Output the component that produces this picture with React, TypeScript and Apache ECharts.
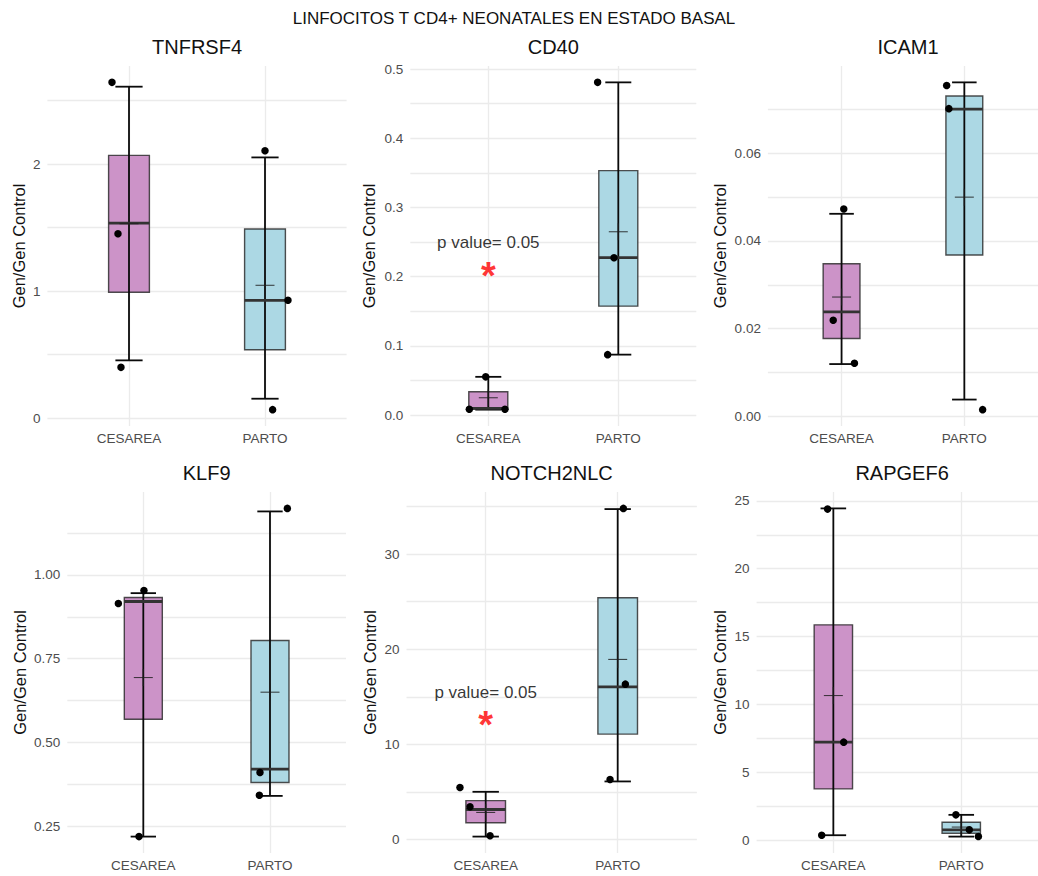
import React, { useEffect, useRef } from "react";
import * as echarts from "echarts";

const FONT = "'Liberation Sans', Arial, Helvetica, sans-serif";

const mainTitle = "LINFOCITOS T CD4+ NEONATALES EN ESTADO BASAL";
const yTitle = "Gen/Gen Control";
const genes = ["TNFRSF4", "CD40", "ICAM1", "KLF9", "NOTCH2NLC", "RAPGEF6"];
const groups = ["CESAREA", "PARTO"];

// [whiskerLow, q1, median, q3, whiskerHigh]
const cesareaBox = [
  [0.454, 0.99, 1.535, 2.068, 2.609],
  [0.0078, 0.0086, 0.0095, 0.0336, 0.0552],
  [0.0119, 0.01775, 0.0238, 0.0348, 0.0462],
  [0.2202, 0.5699, 0.9205, 0.9324, 0.9453],
  [0.3, 1.75, 3.15, 4.08, 5.01],
  [0.39, 3.8, 7.24, 15.87, 24.44],
];
const partoBox = [
  [0.152, 0.538, 0.927, 1.488, 2.052],
  [0.0873, 0.1574, 0.2274, 0.3532, 0.4808],
  [0.0038, 0.0368, 0.0701, 0.0731, 0.0762],
  [0.3414, 0.3811, 0.4209, 0.8043, 1.1887],
  [6.1, 11.08, 16.05, 25.41, 34.74],
  [0.29, 0.54, 0.785, 1.34, 1.89],
];
const cesareaMean = [1.53, 0.025, 0.0272, 0.694, 2.84, 10.67];
const partoMean = [1.045, 0.2649, 0.05, 0.6503, 18.93, 0.99];

// jittered observations
const cesareaPoints = [
  [2.643, 1.451, 0.399],
  [0.0552, 0.0084, 0.0084],
  [0.0473, 0.0219, 0.0121],
  [0.953, 0.9146, 0.2202],
  [5.47, 3.43, 0.39],
  [24.39, 7.24, 0.39],
];
const cesareaJitter = [
  [-0.125, -0.081, -0.059],
  [-0.02, -0.146, 0.128],
  [0.018, -0.068, 0.105],
  [0.005, -0.197, -0.034],
  [-0.195, -0.119, 0.033],
  [-0.045, 0.081, -0.091],
];
const partoPoints = [
  [2.105, 0.927, 0.066],
  [0.4808, 0.2274, 0.0873],
  [0.0755, 0.0702, 0.0015],
  [1.1977, 0.4109, 0.3434],
  [34.81, 16.33, 6.31],
  [1.89, 0.785, 0.3],
];
const partoJitter = [
  [0, 0.169, 0.056],
  [-0.159, -0.033, -0.082],
  [-0.144, -0.126, 0.149],
  [0.137, -0.079, -0.084],
  [0.043, 0.058, -0.058],
  [-0.042, 0.063, 0.134],
];

const majorTicks = [
  [0, 1, 2],
  [0, 0.1, 0.2, 0.3, 0.4, 0.5],
  [0, 0.02, 0.04, 0.06],
  [0.25, 0.5, 0.75, 1.0],
  [0, 10, 20, 30],
  [0, 5, 10, 15, 20, 25],
];
const minorTicks = [
  [0.5, 1.5, 2.5],
  [0.05, 0.15, 0.25, 0.35, 0.45],
  [0.01, 0.03, 0.05, 0.07],
  [0.375, 0.625, 0.875, 1.125],
  [5, 15, 25, 35],
  [2.5, 7.5, 12.5, 17.5, 22.5],
];
const tickDecimals = [0, 1, 2, 2, 0, 0];

const pValueLabel = ["", "p value= 0.05", "", "", "p value= 0.05", ""];
const pValueY = [null, 0.2495, null, null, 15.42, null];
const starY = [null, 0.2014, null, null, 12.07, null];

// layout (pixels)
const gridLeft = [47.4, 410.3, 767.9, 67.3, 406.5, 756.6];
const gridWidth = [299.2, 286, 280.3, 278.7, 290.4, 291];
const gridTop = [66, 66, 66, 492, 492, 492];
const gridHeight = [360, 360, 360, 361, 361, 361];
const yTitleX = [19.3, 369.3, 720, 20, 370, 720];

const cesareaFill = "#cc93c8";
const partoFill = "#acd8e4";

function yRange(i: number): [number, number] {
  const vals = [...cesareaBox[i], ...partoBox[i], ...cesareaPoints[i], ...partoPoints[i]];
  const lo = Math.min(...vals);
  const hi = Math.max(...vals);
  const pad = (hi - lo) * 0.05;
  return [lo - pad, hi + pad];
}

function renderBox(params: any, api: any) {
  const x = api.value(0);
  const c = (v: number) => api.coord([x, v]);
  const wl = c(api.value(1));
  const q1 = c(api.value(2));
  const md = c(api.value(3));
  const q3 = c(api.value(4));
  const wh = c(api.value(5));
  const mn = c(api.value(6));
  const cx = md[0];
  const bw = Math.abs(api.coord([x + 0.15, 0])[0] - api.coord([x - 0.15, 0])[0]);
  const cw = Math.abs(api.coord([x + 0.1, 0])[0] - api.coord([x - 0.1, 0])[0]);
  const fill = Math.round(x) === 1 ? cesareaFill : partoFill;
  const lineStyle = { stroke: "#0a0a0a", lineWidth: 1.8 };
  return {
    type: "group",
    children: [
      {
        type: "rect",
        shape: { x: cx - bw / 2, y: q3[1], width: bw, height: q1[1] - q3[1] },
        style: { fill, stroke: "rgba(35,35,35,0.8)", lineWidth: 1.4 },
      },
      { type: "line", shape: { x1: cx, y1: wh[1], x2: cx, y2: wl[1] }, style: lineStyle },
      { type: "line", shape: { x1: cx - cw / 2, y1: wh[1], x2: cx + cw / 2, y2: wh[1] }, style: lineStyle },
      { type: "line", shape: { x1: cx - cw / 2, y1: wl[1], x2: cx + cw / 2, y2: wl[1] }, style: lineStyle },
      {
        type: "line",
        shape: { x1: cx - bw / 2, y1: md[1], x2: cx + bw / 2, y2: md[1] },
        style: { stroke: "#333", lineWidth: 2.8 },
      },
      {
        type: "line",
        shape: { x1: cx - 9.5, y1: mn[1], x2: cx + 9.5, y2: mn[1] },
        style: { stroke: "rgba(30,30,30,0.8)", lineWidth: 1.1 },
      },
      {
        type: "line",
        shape: { x1: cx, y1: mn[1] - 8.5, x2: cx, y2: mn[1] + 8.5 },
        style: { stroke: "rgba(30,30,30,0.8)", lineWidth: 1.1 },
      },
    ],
  };
}

function buildOption() {
  const grids: any[] = [];
  const xAxes: any[] = [];
  const yAxes: any[] = [];
  const series: any[] = [];
  const graphics: any[] = [];

  graphics.push({
    type: "text",
    x: 514,
    y: 18,
    style: {
      text: mainTitle,
      font: `17px ${FONT}`,
      fill: "#111",
      textAlign: "center",
      textVerticalAlign: "middle",
    },
  });

  genes.forEach((gene, i) => {
    const [ymin, ymax] = yRange(i);
    grids.push({ left: gridLeft[i], top: gridTop[i], width: gridWidth[i], height: gridHeight[i] });
    xAxes.push({
      type: "value",
      gridIndex: i,
      min: 0.4,
      max: 2.6,
      axisLine: { show: false },
      axisTick: { show: false, customValues: [1, 2] },
      axisLabel: {
        customValues: [1, 2],
        formatter: (v: number) => groups[Math.round(v) - 1],
        color: "#4d4d4d",
        fontSize: 13.5,
        fontFamily: FONT,
        margin: 5,
      },
      splitLine: { show: true, lineStyle: { color: "#ebebeb", width: 1.3 } },
    });
    yAxes.push({
      type: "value",
      gridIndex: i,
      min: ymin,
      max: ymax,
      axisLine: { show: false },
      axisTick: { show: false, customValues: [...majorTicks[i], ...minorTicks[i]] },
      axisLabel: {
        customValues: majorTicks[i],
        formatter: (v: number) => v.toFixed(tickDecimals[i]),
        color: "#4d4d4d",
        fontSize: 13.5,
        fontFamily: FONT,
        margin: 7,
      },
      splitLine: { show: true, lineStyle: { color: "#ebebeb", width: 1.3 } },
    });

    series.push({
      type: "custom",
      xAxisIndex: i,
      yAxisIndex: i,
      renderItem: renderBox,
      encode: { x: 0, y: [1, 2, 3, 4, 5, 6] },
      data: [
        [1, ...cesareaBox[i], cesareaMean[i]],
        [2, ...partoBox[i], partoMean[i]],
      ],
      z: 2,
      silent: true,
    });

    const pts: number[][] = [];
    cesareaPoints[i].forEach((v, k) => pts.push([1 + cesareaJitter[i][k], v]));
    partoPoints[i].forEach((v, k) => pts.push([2 + partoJitter[i][k], v]));
    series.push({
      type: "scatter",
      xAxisIndex: i,
      yAxisIndex: i,
      data: pts,
      symbol: "circle",
      symbolSize: 7.5,
      itemStyle: { color: "#000", opacity: 1 },
      z: 3,
      silent: true,
    });

    if (pValueLabel[i]) {
      series.push({
        type: "scatter",
        xAxisIndex: i,
        yAxisIndex: i,
        data: [[1, pValueY[i]]],
        symbolSize: 0,
        z: 4,
        silent: true,
        label: {
          show: true,
          position: "inside",
          formatter: pValueLabel[i],
          color: "#000",
          fontSize: 17,
          fontFamily: FONT,
        },
      });
      series.push({
        type: "scatter",
        xAxisIndex: i,
        yAxisIndex: i,
        data: [[1, starY[i]]],
        symbolSize: 0,
        z: 4,
        silent: true,
        label: {
          show: true,
          position: "inside",
          formatter: "*",
          color: "#ff0000",
          fontSize: 38,
          fontWeight: "bold",
          fontFamily: FONT,
        },
      });
    }

    graphics.push({
      type: "text",
      x: gridLeft[i] + gridWidth[i] / 2,
      y: gridTop[i] - 19.5,
      style: {
        text: gene,
        font: `20px ${FONT}`,
        fill: "#111",
        textAlign: "center",
        textVerticalAlign: "middle",
      },
    });
    graphics.push({
      type: "text",
      x: yTitleX[i],
      y: gridTop[i] + gridHeight[i] / 2,
      rotation: Math.PI / 2,
      style: {
        text: yTitle,
        font: `16.5px ${FONT}`,
        fill: "#111",
        textAlign: "center",
        textVerticalAlign: "middle",
      },
    });
  });

  return {
    animation: false,
    backgroundColor: "#ffffff",
    grid: grids,
    xAxis: xAxes,
    yAxis: yAxes,
    series,
    graphic: graphics,
  };
}

export default function App() {
  const ref = useRef<HTMLDivElement>(null);
  useEffect(() => {
    const chart = echarts.init(ref.current!, null, { renderer: "svg" });
    chart.setOption(buildOption() as any);
    return () => chart.dispose();
  }, []);
  return (
    <div
      ref={ref}
      style={{ position: "absolute", left: 0, top: 0, width: 1038, height: 876, background: "#fff" }}
    />
  );
}
